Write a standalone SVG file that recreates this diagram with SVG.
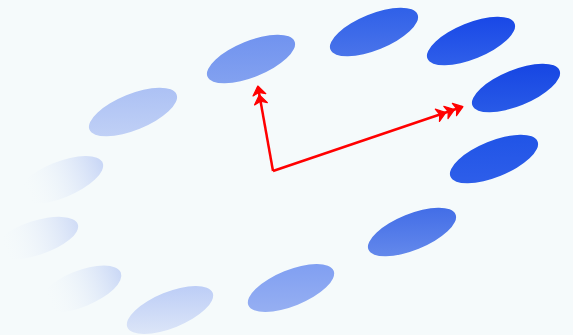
<svg xmlns="http://www.w3.org/2000/svg" width="573" height="335" viewBox="0 0 573 335">
<defs>
<linearGradient id="g1" x1="0" y1="1" x2="1" y2="0"><stop offset="0" stop-color="#86a4f0"/><stop offset="1" stop-color="#6d90ef"/></linearGradient>
<linearGradient id="g2" x1="0" y1="1" x2="1" y2="0"><stop offset="0" stop-color="#4f78ea"/><stop offset="1" stop-color="#2a5ce8"/></linearGradient>
<linearGradient id="g3" x1="0" y1="1" x2="1" y2="0"><stop offset="0" stop-color="#3464ea"/><stop offset="1" stop-color="#1443e6"/></linearGradient>
<linearGradient id="g4" x1="0" y1="1" x2="1" y2="0"><stop offset="0" stop-color="#2c5ee8"/><stop offset="1" stop-color="#1342e2"/></linearGradient>
<linearGradient id="g5" x1="0" y1="1" x2="1" y2="0"><stop offset="0" stop-color="#3060ea"/><stop offset="1" stop-color="#1e52e6"/></linearGradient>
<linearGradient id="g6" x1="0" y1="1" x2="1" y2="0"><stop offset="0" stop-color="#6a8eec"/><stop offset="1" stop-color="#3c68e6"/></linearGradient>
<linearGradient id="g7" x1="0" y1="1" x2="1" y2="0"><stop offset="0" stop-color="#9ab2f2"/><stop offset="1" stop-color="#7c9cf2"/></linearGradient>
<linearGradient id="g8" x1="0" y1="1" x2="1" y2="0"><stop offset="0" stop-color="#e2eaf8"/><stop offset="1" stop-color="#b6c8f6"/></linearGradient>
<linearGradient id="g9" x1="0" y1="0" x2="1" y2="0"><stop offset="0.1" stop-color="#f5fafb" stop-opacity="0"/><stop offset="1" stop-color="#cad8f6"/></linearGradient>
<linearGradient id="g10" x1="0" y1="0" x2="1" y2="0"><stop offset="0.1" stop-color="#f5fafb" stop-opacity="0"/><stop offset="1" stop-color="#d0dcf6"/></linearGradient>
<linearGradient id="g11" x1="0" y1="0" x2="1" y2="0"><stop offset="0.1" stop-color="#f5fafb" stop-opacity="0"/><stop offset="1" stop-color="#c8d6f6"/></linearGradient>
<linearGradient id="g12" x1="0" y1="1" x2="1" y2="0"><stop offset="0" stop-color="#c4d3f6"/><stop offset="1" stop-color="#a8bef4"/></linearGradient>
<marker id="chev2" markerUnits="userSpaceOnUse" orient="auto" markerWidth="26" markerHeight="18" refX="0" refY="0" viewBox="-20 -9 26 18" overflow="visible">
<path d="M1,0 L-8,-6.5 L-5.5,0 L-8,6.5 Z M-8,0 L-17,-6.5 L-14.5,0 L-17,6.5 Z" fill="#ff0000" stroke="#ff0000" stroke-width="1.2" stroke-linejoin="round"/>
</marker>
<marker id="chev3" markerUnits="userSpaceOnUse" orient="auto" markerWidth="34" markerHeight="18" refX="0" refY="0" viewBox="-28 -9 34 18" overflow="visible">
<path d="M1,0 L-8,-6.5 L-5.5,0 L-8,6.5 Z M-8,0 L-17,-6.5 L-14.5,0 L-17,6.5 Z M-17,0 L-26,-6.5 L-23.5,0 L-26,6.5 Z" fill="#ff0000" stroke="#ff0000" stroke-width="1.2" stroke-linejoin="round"/>
</marker>
</defs>
<style>
.dot{stroke:none}
.conn{fill:none;stroke:#ff0000;stroke-width:2.5;stroke-linejoin:miter}
</style>
<rect width="573" height="335" fill="#f5fafb"/>
<g id="n1"><ellipse class="dot" cx="251" cy="59" rx="47" ry="18" transform="rotate(-22 251 59)" fill="url(#g1)"/></g>
<g id="n2"><ellipse class="dot" cx="374" cy="32" rx="47" ry="18" transform="rotate(-22 374 32)" fill="url(#g2)"/></g>
<g id="n3"><ellipse class="dot" cx="471" cy="41" rx="47" ry="18" transform="rotate(-22 471 41)" fill="url(#g3)"/></g>
<g id="n4"><ellipse class="dot" cx="516" cy="88" rx="47" ry="18" transform="rotate(-22 516 88)" fill="url(#g4)"/></g>
<g id="n5"><ellipse class="dot" cx="494" cy="159" rx="47" ry="18" transform="rotate(-22 494 159)" fill="url(#g5)"/></g>
<g id="n6"><ellipse class="dot" cx="412" cy="232" rx="47" ry="18" transform="rotate(-22 412 232)" fill="url(#g6)"/></g>
<g id="n7"><ellipse class="dot" cx="291" cy="288" rx="46" ry="18" transform="rotate(-22 291 288)" fill="url(#g7)"/></g>
<g id="n8"><ellipse class="dot" cx="170" cy="310" rx="46" ry="18" transform="rotate(-22 170 310)" fill="url(#g8)"/></g>
<g id="n9"><ellipse class="dot" cx="80" cy="289" rx="44" ry="18" transform="rotate(-22 80 289)" fill="url(#g9)"/></g>
<g id="n10"><ellipse class="dot" cx="36" cy="238" rx="44" ry="17" transform="rotate(-18 36 238)" fill="url(#g10)"/></g>
<g id="n11"><ellipse class="dot" cx="60" cy="180" rx="46" ry="18" transform="rotate(-22 60 180)" fill="url(#g11)"/></g>
<g id="n12"><ellipse class="dot" cx="133" cy="112" rx="47" ry="18" transform="rotate(-22 133 112)" fill="url(#g12)"/></g>
<g id="connectors">
<path class="conn" d="M273,171 L258,87" marker-end="url(#chev2)"/>
<path class="conn" d="M273,171 L462,107" marker-end="url(#chev3)"/>
</g>
</svg>
